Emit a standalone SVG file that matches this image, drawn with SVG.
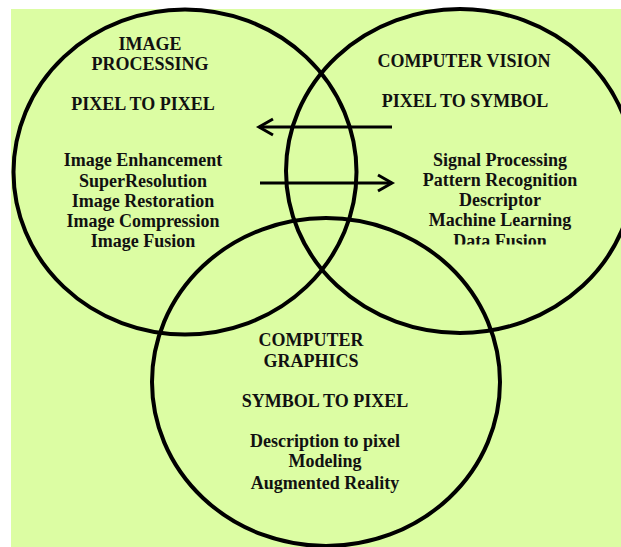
<svg xmlns="http://www.w3.org/2000/svg" width="621" height="547" viewBox="0 0 621 547">
  <style>
    .field { fill: none; stroke: #000; stroke-width: 4; }
    .link { fill: none; stroke: #000; stroke-width: 3; stroke-linecap: butt; }
    .head { fill: none; stroke: #000; stroke-width: 3; stroke-linejoin: miter; }
    text { font-family: "Liberation Serif", "Times New Roman", serif; font-weight: bold; font-size: 18px; fill: #111; text-anchor: middle; }
  </style>
  <defs>
    <clipPath id="cvClip">
      <rect x="380" y="140" width="240" height="104.5"/>
    </clipPath>
  </defs>

  <rect x="0" y="0" width="621" height="547" fill="#ffffff"/>
  <rect x="11" y="9" width="610" height="538" fill="#dcfda3"/>

  <g id="image-processing">
    <ellipse class="field" cx="185" cy="172" rx="171.5" ry="162.5"/>
    <text x="150" y="50">IMAGE</text>
    <text x="150" y="70">PROCESSING</text>
    <text x="143" y="110">PIXEL TO PIXEL</text>
    <text x="143" y="166">Image Enhancement</text>
    <text x="143" y="187">SuperResolution</text>
    <text x="143" y="207">Image Restoration</text>
    <text x="143" y="227">Image Compression</text>
    <text x="143" y="247">Image Fusion</text>
  </g>

  <g id="computer-vision">
    <ellipse class="field" cx="460" cy="171" rx="174" ry="162"/>
    <text x="464" y="67">COMPUTER VISION</text>
    <text x="465" y="107">PIXEL TO SYMBOL</text>
    <g clip-path="url(#cvClip)">
      <text x="500" y="166">Signal Processing</text>
      <text x="500" y="186">Pattern Recognition</text>
      <text x="500" y="206">Descriptor</text>
      <text x="500" y="226">Machine Learning</text>
      <text x="500" y="247">Data Fusion</text>
    </g>
  </g>

  <g id="computer-graphics">
    <ellipse class="field" cx="326" cy="382" rx="174" ry="164"/>
    <text x="311" y="346">COMPUTER</text>
    <text x="311" y="367">GRAPHICS</text>
    <text x="325" y="407">SYMBOL TO PIXEL</text>
    <text x="325" y="447">Description to pixel</text>
    <text x="325" y="467">Modeling</text>
    <text x="325" y="489">Augmented Reality</text>
  </g>

  <g id="connectors">
    <line class="link" x1="392" y1="127" x2="259" y2="127"/>
    <polyline class="head" points="273,119 259,127 273,135"/>
    <line class="link" x1="260" y1="183" x2="392" y2="183"/>
    <polyline class="head" points="378,175 392,183 378,191"/>
  </g>
</svg>
